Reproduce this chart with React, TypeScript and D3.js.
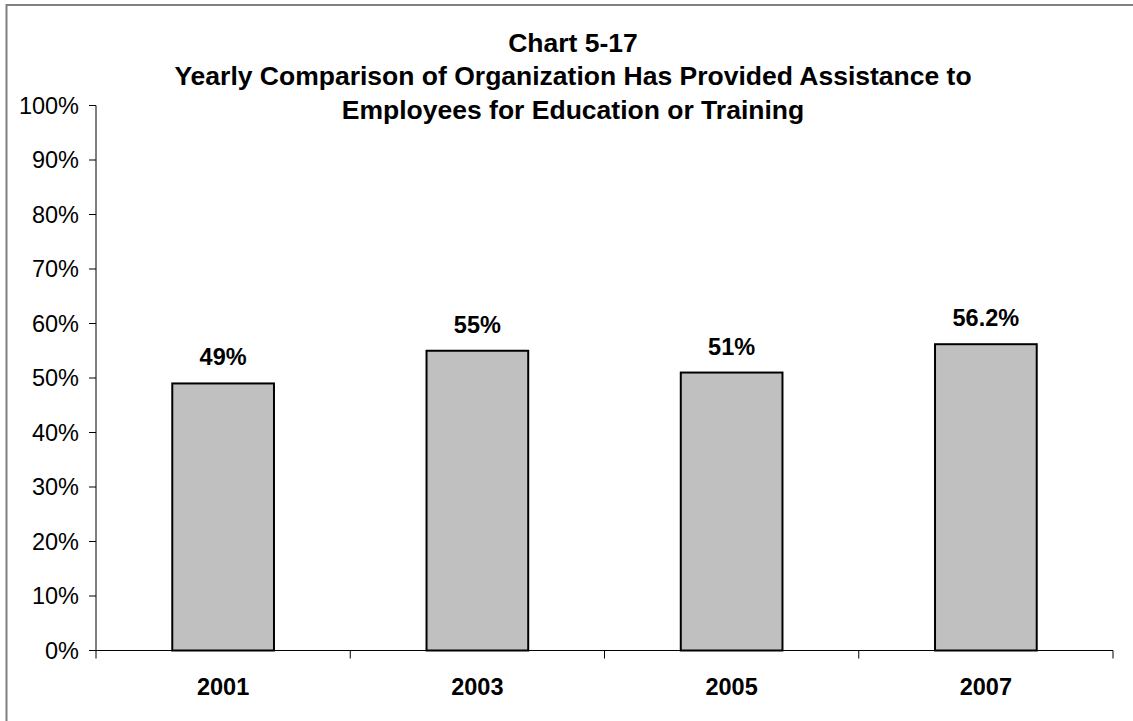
import React from "react";
import * as d3 from "d3";

const titleLines = [
  "Chart 5-17",
  "Yearly Comparison of Organization Has Provided Assistance to",
  "Employees for Education or Training",
];
const years = ["2001", "2003", "2005", "2007"];
const values = [49, 55, 51, 56.2];
const valueLabels = ["49%", "55%", "51%", "56.2%"];
const yTicks = [0, 10, 20, 30, 40, 50, 60, 70, 80, 90, 100];

const W = 1133;
const H = 721;
const plot = { left: 96, right: 1113, top: 105.5, bottom: 650.5 };

export default function App() {
  const x = d3
    .scaleBand<string>()
    .domain(years)
    .range([plot.left, plot.right])
    .paddingInner(0.6)
    .paddingOuter(0.3);
  const xb = d3.scaleBand<string>().domain(years).range([plot.left, plot.right]);
  const y = d3.scaleLinear().domain([0, 100]).range([plot.bottom, plot.top]);
  const font = "Arial, 'Liberation Sans', sans-serif";
  const boundaries = [...years.map((d) => xb(d) as number), plot.right];

  return (
    <svg
      width={W}
      height={H}
      style={{ position: "absolute", left: 0, top: 0, background: "#fff" }}
      fontFamily={font}
    >
      <rect x={0} y={0} width={W} height={H} fill="#fff" />
      <rect x={6.5} y={5} width={W + 50} height={H + 50} fill="none" stroke="#808080" strokeWidth={2} />
      {titleLines.map((t, i) => (
        <text
          key={i}
          x={573}
          y={52 + i * 33.3}
          textAnchor="middle"
          fontWeight="bold"
          fontSize={26.5}
          fill="#000"
        >
          {t}
        </text>
      ))}
      {/* y axis */}
      <line x1={plot.left} x2={plot.left} y1={plot.top} y2={plot.bottom} stroke="#000" strokeWidth={1} />
      {yTicks.map((t) => (
        <g key={t}>
          <line x1={plot.left - 7} x2={plot.left} y1={y(t)} y2={y(t)} stroke="#000" strokeWidth={1} />
          <text x={79} y={y(t)} dy="0.36em" textAnchor="end" fontSize={23.5} fill="#000">
            {t}%
          </text>
        </g>
      ))}
      {/* bars */}
      {years.map((yr, i) => (
        <g key={yr}>
          <rect
            x={x(yr)}
            y={y(values[i])}
            width={x.bandwidth()}
            height={plot.bottom - y(values[i])}
            fill="#c0c0c0"
            stroke="#000"
            strokeWidth={2}
          />
          <text
            x={(x(yr) as number) + x.bandwidth() / 2}
            y={y(values[i]) - 18}
            textAnchor="middle"
            fontWeight="bold"
            fontSize={23.5}
            fill="#000"
          >
            {valueLabels[i]}
          </text>
          <text
            x={(x(yr) as number) + x.bandwidth() / 2}
            y={695}
            textAnchor="middle"
            fontWeight="bold"
            fontSize={23.5}
            fill="#000"
          >
            {yr}
          </text>
        </g>
      ))}
      {/* x axis */}
      <line x1={plot.left} x2={plot.right} y1={plot.bottom} y2={plot.bottom} stroke="#000" strokeWidth={1} />
      {boundaries.map((b, i) => (
        <line key={i} x1={b} x2={b} y1={plot.bottom} y2={plot.bottom + 8} stroke="#000" strokeWidth={1} />
      ))}
    </svg>
  );
}
